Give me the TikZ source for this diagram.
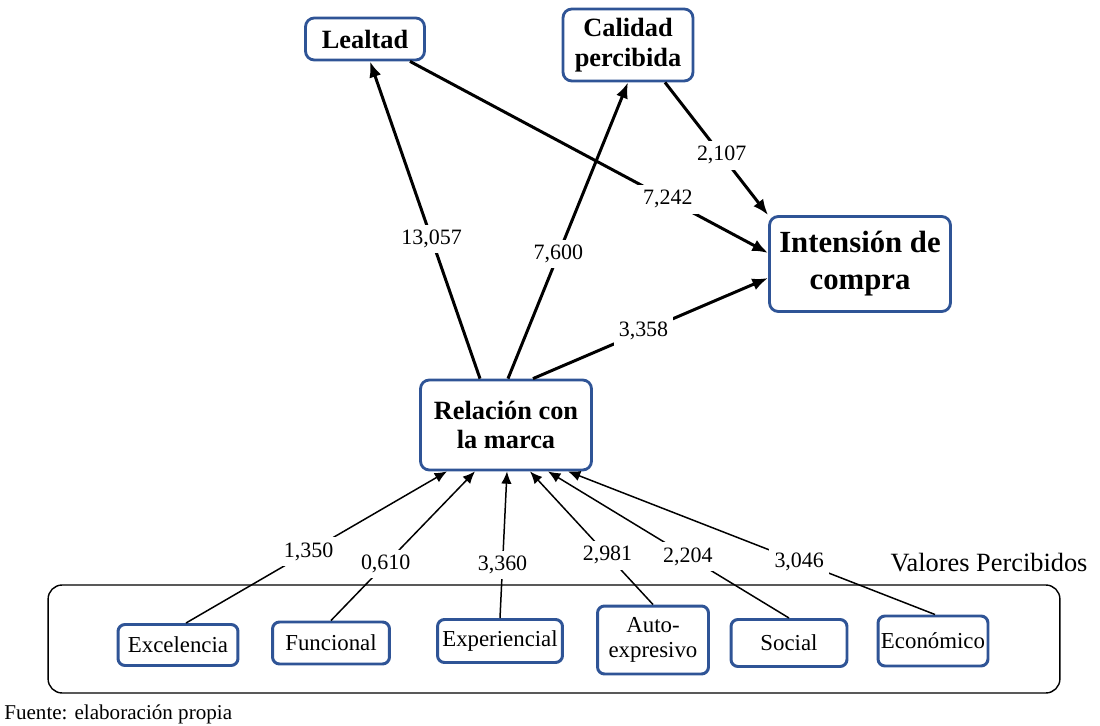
\documentclass[tikz,border=0pt]{standalone}
\usepackage{fontspec}
\setmainfont{Liberation Serif}
\usetikzlibrary{arrows.meta,calc}
\definecolor{boxblue}{RGB}{47,84,150}
\begin{document}
\begin{tikzpicture}[x=0.02cm,y=-0.02cm,
 bigbox/.style={draw=boxblue,line width=1.6pt,rounded corners=5pt,fill=white,align=center,font=\bfseries\fontsize{15}{17}\selectfont,inner sep=0pt},
 smallbox/.style={draw=boxblue,line width=1.7pt,rounded corners=4pt,fill=white,align=center,font=\fontsize{13}{14.5}\selectfont,inner sep=0pt},
 bigarrow/.style={line width=1.7pt,-{Latex[length=9pt,width=7pt]}},
 smallarrow/.style={line width=0.85pt,-{Latex[length=7pt,width=6pt]}},
 lab/.style={fill=white,inner sep=3pt,font=\fontsize{12.5}{14}\selectfont},
]
\useasboundingbox (0,0) rectangle (1100,726);
% container
\node[draw,rounded corners=8pt,line width=0.8pt,minimum width=20.24cm,minimum height=2.16cm,inner sep=0pt] (vp) at (554,639) {};
% main boxes
\node[bigbox,minimum width=2.38cm,minimum height=0.84cm] (leal) at (365,39) {Lealtad};
\node[bigbox,minimum width=2.6cm,minimum height=1.44cm] (cal) at (628,45) {Calidad\\percibida};
\node[bigbox,minimum width=3.62cm,minimum height=1.9cm,font=\bfseries\fontsize{17.5}{21}\selectfont] (int) at (860,264) {Intensión de\\compra};
\node[bigbox,minimum width=3.42cm,minimum height=1.8cm] (rel) at (506,425) {Relación con\\la marca};
% small boxes
\node[smallbox,minimum width=2.4cm,minimum height=0.82cm] (exc) at (178,645) {Excelencia};
\node[smallbox,minimum width=2.34cm,minimum height=0.84cm] (fun) at (331,643) {Funcional};
\node[smallbox,minimum width=2.5cm,minimum height=0.86cm] (exp) at (500,641) {Experiencial};
\node[smallbox,minimum width=2.22cm,minimum height=1.36cm] (auto) at (653,640) {Auto-\\expresivo};
\node[smallbox,minimum width=2.32cm,minimum height=0.94cm] (soc) at (789,643) {Social};
\node[smallbox,minimum width=2.2cm,minimum height=1.0cm] (eco) at (933,641) {Económico};
% texts
\node[font=\fontsize{15}{17}\selectfont] (vpt) at (989,563) {Valores Percibidos};
\node[anchor=west,font=\fontsize{12}{14}\selectfont,inner sep=0pt] (fte) at (4,714) {Fuente: elaboración propia};
% top arrows
\draw[bigarrow] ([xshift=-0.52cm]rel.north) -- node[lab,pos=0.44]{13,057} ([xshift=0.1cm]leal.south);
\draw[bigarrow] ([xshift=0.04cm]rel.north) -- node[lab,pos=0.42]{7,600} (cal.south);
\draw[bigarrow] ([xshift=0.54cm]rel.north) -- node[lab,pos=0.47]{3,358} ([yshift=-0.28cm]int.west);
\draw[bigarrow] ([xshift=0.9cm]leal.south) -- node[lab,pos=0.72]{7,242} ([yshift=0.22cm]int.west);
\draw[bigarrow] ([xshift=0.74cm]cal.south) -- node[lab,pos=0.55]{2,107} (int.north west);
% bottom arrows
\draw[smallarrow] ([xshift=0.16cm]exc.north) -- node[lab,pos=0.47]{1,350} ([xshift=-1.18cm]rel.south);
\draw[smallarrow] (fun.north) -- node[lab,pos=0.38]{0,610} ([xshift=-0.62cm]rel.south);
\draw[smallarrow] (exp.north) -- node[lab,pos=0.36]{3,360} ([xshift=0.02cm]rel.south);
\draw[smallarrow] (auto.north) -- node[lab,pos=0.37]{2,981} ([xshift=0.48cm]rel.south);
\draw[smallarrow] (soc.north) -- node[lab,pos=0.42]{2,204} ([xshift=0.84cm]rel.south);
\draw[smallarrow] ([xshift=0.04cm]eco.north) -- node[lab,pos=0.37]{3,046} ([xshift=1.24cm]rel.south);
\end{tikzpicture}
\end{document}
